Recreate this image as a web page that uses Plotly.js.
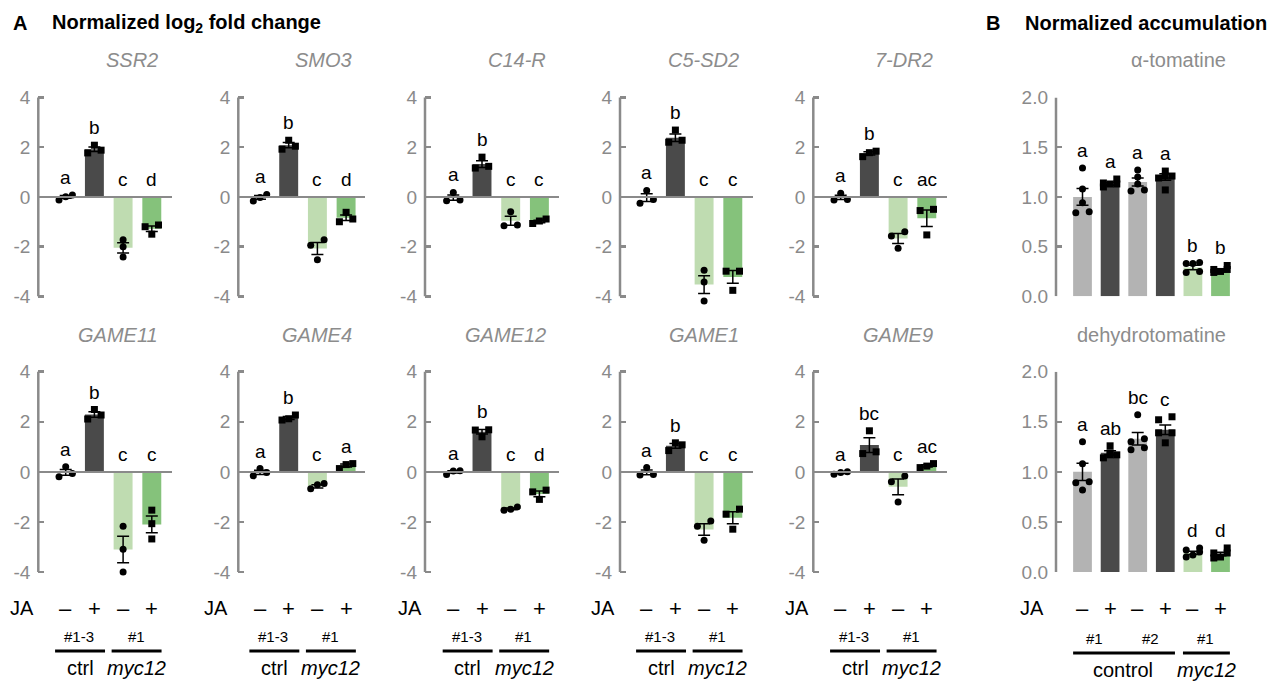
<!DOCTYPE html>
<html>
<head>
<meta charset="utf-8">
<script src="https://cdn.plot.ly/plotly-3.0.1.min.js"></script>
<style>
  html, body { margin: 0; padding: 0; background: #ffffff; }
  #chart { width: 1273px; height: 681px; }
</style>
</head>
<body>
<div id="chart"></div>
<script>
// ---------------- DATA ----------------
// Panel A: normalized log2 fold change; groups: ctrl -JA, ctrl +JA, myc12 -JA, myc12 +JA
const genes = ['SSR2', 'SMO3', 'C14-R', 'C5-SD2', '7-DR2', 'GAME11', 'GAME4', 'GAME12', 'GAME1', 'GAME9'];
const jaSignsA = ['–', '+', '–', '+'];
const tickValsA = [-4, -2, 0, 2, 4];
const tickTextA = ['-4', '-2', '0', '2', '4'];

const SSR2_mean = [0.0, 1.92, -2.05, -1.28];
const SSR2_pts = [[-0.12, 0.08, 0.01], [2.08, 1.77, 1.88], [-1.72, -2.01, -2.42], [-1.13, -1.20, -1.50]];
const SSR2_sig = ['a', 'b', 'c', 'd'];

const SMO3_mean = [-0.02, 2.08, -2.08, -0.84];
const SMO3_pts = [[0.10, -0.16, -0.02], [2.28, 1.92, 2.04], [-1.72, -1.95, -2.53], [-1.00, -0.62, -0.89]];
const SMO3_sig = ['a', 'b', 'c', 'd'];

const C14R_mean = [-0.03, 1.32, -0.96, -0.99];
const C14R_pts = [[0.18, -0.15, -0.12], [1.60, 1.16, 1.23], [-0.60, -1.16, -1.13], [-1.07, -0.89, -0.97]];
const C14R_sig = ['a', 'b', 'c', 'c'];

const C5SD2_mean = [-0.03, 2.38, -3.53, -3.22];
const C5SD2_pts = [[0.26, -0.26, -0.10], [2.69, 2.20, 2.28], [-2.95, -3.42, -4.19], [-2.99, -2.99, -3.76]];
const C5SD2_sig = ['a', 'b', 'c', 'c'];

const DR2_mean = [-0.02, 1.75, -1.67, -0.86];
const DR2_pts = [[0.15, -0.12, -0.10], [1.62, 1.84, 1.78], [-1.40, -1.57, -2.07], [-0.50, -0.55, -1.53]];
const DR2_sig = ['a', 'b', 'c', 'ac'];

const GAME11_mean = [-0.02, 2.29, -3.10, -2.10];
const GAME11_pts = [[0.20, -0.20, -0.07], [2.49, 2.11, 2.27], [-2.17, -3.09, -4.00], [-1.53, -2.07, -2.68]];
const GAME11_sig = ['a', 'b', 'c', 'c'];

const GAME4_mean = [-0.02, 2.15, -0.58, 0.25];
const GAME4_pts = [[0.13, -0.16, -0.03], [2.27, 2.07, 2.12], [-0.68, -0.47, -0.52], [0.33, 0.13, 0.29]];
const GAME4_sig = ['a', 'b', 'c', 'a'];

const GAME12_mean = [0.0, 1.60, -1.48, -0.88];
const GAME12_pts = [[-0.11, 0.04, 0.03], [1.67, 1.40, 1.68], [-1.53, -1.40, -1.49], [-0.73, -0.80, -1.10]];
const GAME12_sig = ['a', 'b', 'c', 'd'];

const GAME1_mean = [-0.02, 1.04, -2.30, -1.83];
const GAME1_pts = [[0.17, -0.13, -0.11], [1.16, 1.08, 0.85], [-1.96, -2.17, -2.73], [-1.49, -1.69, -2.29]];
const GAME1_sig = ['a', 'b', 'c', 'c'];

const GAME9_mean = [-0.04, 1.07, -0.60, 0.24];
const GAME9_pts = [[-0.10, 0.00, -0.03], [1.64, 0.73, 0.80], [-0.17, -0.40, -1.20], [0.33, 0.17, 0.23]];
const GAME9_sig = ['a', 'bc', 'c', 'ac'];

// Panel B: normalized accumulation; control #1 -/+, control #2 -/+, myc12 #1 -/+
const metabolites = ['α-tomatine', 'dehydrotomatine'];
const jaSignsB = ['–', '+', '–', '+', '–', '+'];
const tickValsB = [0, 0.5, 1, 1.5, 2];
const tickTextB = ['0.0', '0.5', '1.0', '1.5', '2.0'];

const TOM_mean = [1.00, 1.13, 1.15, 1.20, 0.29, 0.26];
const TOM_pts = [[1.29, 1.08, 0.94, 0.84, 0.85], [1.18, 1.10, 1.13, 1.13, 1.14], [1.27, 1.20, 1.13, 1.06, 1.07],
                 [1.26, 1.21, 1.21, 1.19, 1.07], [0.33, 0.33, 0.34, 0.24, 0.25], [0.31, 0.24, 0.27, 0.27, 0.25]];
const TOM_sig = ['a', 'a', 'a', 'a', 'b', 'b'];

const DHT_mean = [1.00, 1.19, 1.33, 1.42, 0.19, 0.18];
const DHT_pts = [[1.30, 1.08, 0.90, 0.82, 0.89], [1.26, 1.17, 1.19, 1.17, 1.14], [1.57, 1.33, 1.22, 1.24, 1.30],
                 [1.55, 1.52, 1.39, 1.39, 1.29], [0.22, 0.20, 0.24, 0.15, 0.17], [0.24, 0.15, 0.19, 0.19, 0.14]];
const DHT_sig = ['a', 'ab', 'bc', 'c', 'd', 'd'];

// ---------------- STYLE ----------------
const FONT = 'Liberation Sans, Arial, Helvetica, sans-serif';
const AXIS_GRAY = '#8a8a8a';
const colorsA = ['#b3b3b3', '#4a4a4a', '#bfdcb1', '#85c27b'];
const colorsB = ['#b3b3b3', '#4a4a4a', '#b3b3b3', '#4a4a4a', '#bfdcb1', '#85c27b'];
const symbolsA = ['circle', 'square', 'circle', 'square'];
const symbolsB = ['circle', 'square', 'circle', 'square', 'circle', 'square'];

const W = 1273, H = 681;
const px2x = p => p / W;
const px2y = p => 1 - p / H;

// column geometry (pixels): axis line, first bar centre, right end
const colAxisPx = [38.3, 238.3, 425, 620, 813.3];
const colBar0Px = [65.7, 260, 453.3, 646.7, 840.7];
const colEndPx = [171.7, 365, 559, 752.7, 946.7];
const stepA = 28.7;
const rowTopPx = [97.5, 371.7];   // pixel of axis maximum
const rowBotPx = [296.3, 572];    // pixel of axis minimum
const bAxisPx = 1056, bBar0Px = 1082.5, bEndPx = 1235, stepB = 27.6;
const PAD = 0.45; // extra data range (panel A) so outlying points stay visible

const geneData = [
  [SSR2_mean, SSR2_pts, SSR2_sig], [SMO3_mean, SMO3_pts, SMO3_sig], [C14R_mean, C14R_pts, C14R_sig],
  [C5SD2_mean, C5SD2_pts, C5SD2_sig], [DR2_mean, DR2_pts, DR2_sig], [GAME11_mean, GAME11_pts, GAME11_sig],
  [GAME4_mean, GAME4_pts, GAME4_sig], [GAME12_mean, GAME12_pts, GAME12_sig], [GAME1_mean, GAME1_pts, GAME1_sig],
  [GAME9_mean, GAME9_pts, GAME9_sig]
];
const metData = [[TOM_mean, TOM_pts, TOM_sig], [DHT_mean, DHT_pts, DHT_sig]];

function sem(arr) {
  const n = arr.length;
  const m = arr.reduce((a, b) => a + b, 0) / n;
  const v = arr.reduce((a, b) => a + (b - m) * (b - m), 0) / (n - 1);
  return Math.sqrt(v) / Math.sqrt(n);
}

// simple beeswarm: points that would overlap are spread horizontally
function swarm(vals, pxPerY, stepX) {
  const idx = vals.map((v, i) => i).sort((a, b) => vals[a] - vals[b]);
  const off = new Array(vals.length).fill(0);
  let row = [];
  const flush = () => {
    const k = row.length;
    const pat = k === 1 ? [0] : k === 2 ? [-1, 1] : [-1, 0, 1];
    row.forEach((i, j) => { off[i] = pat[j] * stepX; });
    row = [];
  };
  for (const i of idx) {
    if (row.length && ((vals[i] - vals[row[0]]) * pxPerY >= 6.5 || row.length >= 3)) flush();
    row.push(i);
  }
  if (row.length) flush();
  return off;
}

const traces = [];
const layout = {
  width: W, height: H,
  margin: { l: 0, r: 0, t: 0, b: 0 },
  paper_bgcolor: '#ffffff', plot_bgcolor: 'rgba(0,0,0,0)',
  showlegend: false, hovermode: false,
  font: { family: FONT, color: '#000000' },
  annotations: [], shapes: []
};

function addPanel(k, axisPx, bar0Px, endPx, step, topPx, botPx, mean, pts, sig, colors, symbols, isA, title) {
  const xn = k === 1 ? 'x' : 'x' + k;
  const yn = k === 1 ? 'y' : 'y' + k;
  const xk = 'xaxis' + (k === 1 ? '' : k);
  const yk = 'yaxis' + (k === 1 ? '' : k);
  const axMin = isA ? -4 : 0, axMax = isA ? 4 : 2;
  const pxPerY = (botPx - topPx) / (axMax - axMin);
  const pad = isA ? PAD : 0;
  layout[xk] = {
    domain: [px2x(axisPx), px2x(endPx)],
    range: [(axisPx - bar0Px) / step, (endPx - bar0Px) / step],
    anchor: yn, showline: false, showgrid: false, zeroline: false,
    showticklabels: false, ticks: '', fixedrange: true
  };
  layout[yk] = {
    domain: [px2y(botPx + pad * pxPerY), px2y(topPx - pad * pxPerY)],
    range: [axMin - pad, axMax + pad], anchor: xn,
    tickvals: isA ? tickValsA : tickValsB,
    ticktext: isA ? tickTextA : tickTextB,
    ticks: 'inside', ticklen: 6, tickwidth: 2.5, tickcolor: AXIS_GRAY,
    showline: false, showgrid: false,
    zeroline: isA, zerolinecolor: AXIS_GRAY, zerolinewidth: 2.5, zerolinelayer: 'above traces',
    tickfont: { family: FONT, size: 19, color: AXIS_GRAY },
    ticklabelstandoff: 7, fixedrange: true
  };
  // vertical axis line spanning exactly the labelled range
  layout.shapes.push({
    type: 'line', xref: 'paper', yref: yn, x0: px2x(axisPx), x1: px2x(axisPx), y0: axMin, y1: axMax,
    line: { color: AXIS_GRAY, width: 2.5 }
  });
  const xs = mean.map((v, i) => i);
  traces.push({
    type: 'bar', x: xs, y: mean, xaxis: xn, yaxis: yn,
    width: isA ? 0.66 : 0.68,
    marker: { color: colors, line: { width: 0 } },
    error_y: { type: 'data', array: pts.map(sem), visible: true, color: '#000000', thickness: 1.5, width: 6 },
    hoverinfo: 'skip'
  });
  pts.forEach((p, i) => {
    const off = swarm(p, pxPerY, 6.7 / step);
    traces.push({
      type: 'scatter', mode: 'markers', xaxis: xn, yaxis: yn,
      x: p.map((v, j) => i + off[j]), y: p,
      marker: { symbol: symbols[i], size: 7, color: '#000000' },
      cliponaxis: false, hoverinfo: 'skip'
    });
  });
  // significance letters
  sig.forEach((s, i) => {
    const top = Math.max(0, Math.max(...pts[i]), mean[i] + sem(pts[i]));
    layout.annotations.push({
      xref: xn, yref: yn, x: i, y: top, yanchor: 'bottom', xanchor: 'center', yshift: 5,
      text: s, showarrow: false, font: { family: FONT, size: 19, color: '#000000' }
    });
  });
  // panel title
  layout.annotations.push({
    xref: xn, yref: 'paper', x: isA ? 3.29 : 5.27, xanchor: 'right',
    y: px2y(topPx < 200 ? 60 : 335), yanchor: 'middle',
    text: isA ? '<i>' + title + '</i>' : title, showarrow: false,
    font: { family: FONT, size: 20, color: '#8c8c8c' }
  });
  return { xn: xn };
}

function addBottom(xn, isA, jaPx) {
  const signs = isA ? jaSignsA : jaSignsB;
  const txt = (x, y, t, size, italic) => layout.annotations.push({
    xref: xn, yref: 'paper', x: x, y: px2y(y), xanchor: 'center', yanchor: 'middle',
    text: italic ? '<i>' + t + '</i>' : t, showarrow: false, font: { family: FONT, size: size, color: '#000000' }
  });
  const line = (x0, x1, y) => layout.shapes.push({
    type: 'line', xref: xn, yref: 'paper', x0: x0, x1: x1, y0: px2y(y), y1: px2y(y),
    line: { color: '#000000', width: 3 }
  });
  layout.annotations.push({
    xref: 'paper', yref: 'paper', x: px2x(jaPx), y: px2y(608), xanchor: 'center', yanchor: 'middle',
    text: 'JA', showarrow: false, font: { family: FONT, size: 20, color: '#000000' }
  });
  signs.forEach((s, i) => txt(i, 608, s, 22, false));
  if (isA) {
    txt(0.47, 636, '#1-3', 15, false);
    txt(2.45, 636, '#1', 15, false);
    line(-0.37, 1.37, 651);
    line(1.60, 3.34, 651);
    txt(0.5, 668, 'ctrl', 20, false);
    txt(2.47, 668, 'myc12', 20, true);
  } else {
    txt(0.45, 638, '#1', 15, false);
    txt(2.48, 638, '#2', 15, false);
    txt(4.47, 638, '#1', 15, false);
    line(-0.34, 3.35, 653);
    line(3.64, 5.34, 653);
    txt(1.47, 670, 'control', 20, false);
    txt(4.5, 670, 'myc12', 20, true);
  }
}

geneData.forEach((d, g) => {
  const row = g < 5 ? 0 : 1;
  const col = g % 5;
  const r = addPanel(g + 1, colAxisPx[col], colBar0Px[col], colEndPx[col], stepA,
    rowTopPx[row], rowBotPx[row], d[0], d[1], d[2], colorsA, symbolsA, true, genes[g]);
  if (row === 1) addBottom(r.xn, true, colBar0Px[col] - 43.7);
});
metData.forEach((d, m) => {
  const r = addPanel(11 + m, bAxisPx, bBar0Px, bEndPx, stepB,
    rowTopPx[m], rowBotPx[m], d[0], d[1], d[2], colorsB, symbolsB, false, metabolites[m]);
  if (m === 1) addBottom(r.xn, false, bBar0Px - 50.8);
});

// panel headers
const header = (x, t) => layout.annotations.push({
  xref: 'paper', yref: 'paper', x: px2x(x), y: px2y(23), xanchor: 'left', yanchor: 'middle',
  text: '<b>' + t + '</b>', showarrow: false, font: { family: FONT, size: 20, color: '#000000' }
});
header(11, 'A');
header(50, 'Normalized log<sub>2</sub> fold change');
header(984, 'B');
header(1023, 'Normalized accumulation');

Plotly.newPlot('chart', traces, layout, { staticPlot: true, displayModeBar: false });
</script>
</body>
</html>
